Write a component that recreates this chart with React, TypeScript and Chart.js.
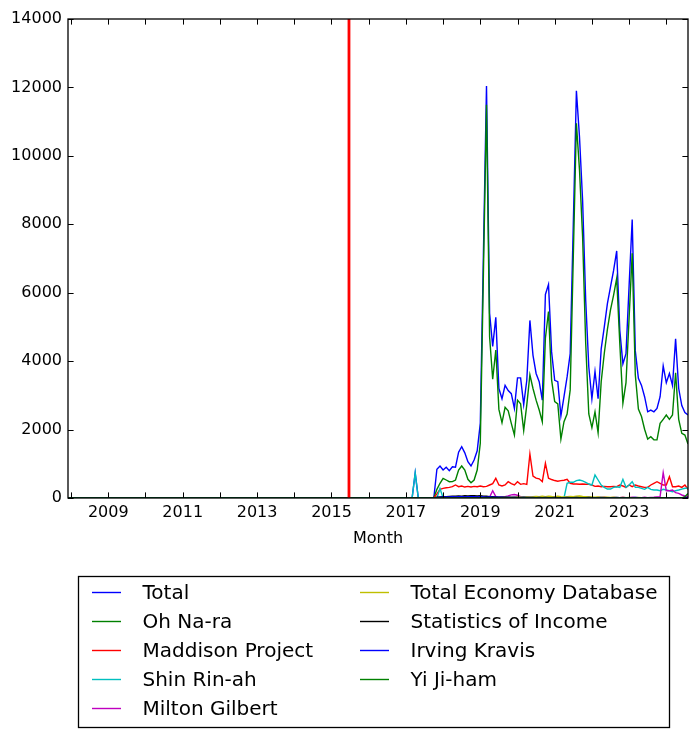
import React, { useEffect, useRef } from "react";
import { Chart, registerables } from "chart.js";

Chart.register(...registerables);

// ---- data ----
const startYear = 2007;
const startMonth = 11; // first month-end sample (Nov 2007)
const monthCount = 201; // through Jul 2024
const zeroMonthsBeforeActive = 110; // every series reads 0 before Jan 2017

const seriesNames = [
  "Total",
  "Oh Na-ra",
  "Maddison Project",
  "Shin Rin-ah",
  "Milton Gilbert",
  "Total Economy Database",
  "Statistics of Income",
  "Irving Kravis",
  "Yi Ji-ham",
];
const seriesColors = ["#0000ff", "#008000", "#ff0000", "#00bfbf", "#bf00bf", "#bfbf00", "#000000", "#0000ff", "#008000"];

// values from Jan 2017 to Jul 2024
const totalValues = [
  0, 0, 730, 0, 0, 0, 0, 0, 0, 840,
  935, 818, 897, 800, 915, 900, 1340, 1500, 1320, 1060,
  935, 1110, 1380, 2180, 7100, 12040, 5400, 4430, 5280, 3200,
  2900, 3290, 3140, 3050, 2620, 3510, 3510, 2730, 3440, 5190,
  4170, 3640, 3400, 2860, 5950, 6240, 4270, 3440, 3400, 2400,
  2960, 3540, 4220, 8000, 11900, 10550, 8700, 5780, 3830, 2900,
  3700, 2900, 4360, 5000, 5680, 6170, 6650, 7220, 4900, 3920,
  4220, 6200, 8140, 4300, 3500, 3290, 2960, 2520, 2570, 2520,
  2620, 2960, 3860, 3370, 3640, 3290, 4650, 3200, 2700, 2500,
  2430,
];
const ohNaraValues = [
  0, 0, 0, 0, 0, 0, 0, 0, 0, 254,
  430, 575, 526, 477, 480, 526, 818, 935, 818, 546,
  448, 526, 818, 1600, 6545, 11490, 4715, 3470, 4326, 2590,
  2200, 2650, 2550, 2180, 1840, 2860, 2750, 1970, 2720, 3600,
  3200, 2860, 2570, 2230, 4670, 5450, 3450, 2815, 2750, 1720,
  2230, 2455, 3160, 7055, 10950, 9590, 7640, 4520, 2455, 2055,
  2520, 1910, 3400, 4230, 4930, 5500, 5930, 6420, 4520, 2770,
  3370, 5260, 7150, 3600, 2600, 2380, 2010, 1720, 1790, 1700,
  1700, 2180, 2300, 2425, 2300, 2425, 3660, 2300, 1890, 1840,
  1580,
];
const maddisonValues = [
  0, 0, 0, 0, 0, 0, 0, 0, 0, 120,
  254, 283, 300, 312, 330, 380, 330, 350, 320, 340,
  320, 340, 330, 350, 330, 340, 380, 420, 575, 380,
  350, 380, 477, 420, 380, 477, 400, 420, 400, 1286,
  643, 580, 560, 480, 1014, 580, 540, 510, 490, 507,
  520, 546, 430, 409, 409, 400, 410, 400, 400, 380,
  340, 350, 330, 340, 330, 330, 340, 330, 380, 350,
  312, 380, 330, 380, 350, 330, 312, 312, 380, 430,
  477, 430, 380, 380, 623, 330, 330, 350, 312, 380,
  254,
];
const shinRinahValues = [
  0, 0, 730, 0, 0, 0, 0, 0, 0, 0,
  280, 0, 0, 0, 0, 0, 0, 0, 0, 0,
  0, 0, 0, 0, 0, 0, 0, 0, 0, 0,
  0, 0, 0, 0, 0, 0, 0, 0, 0, 0,
  0, 0, 0, 0, 0, 0, 0, 0, 0, 0,
  0, 430, 459, 459, 507, 526, 500, 459, 409, 380,
  672, 526, 380, 312, 263, 263, 312, 330, 312, 546,
  312, 380, 477, 312, 312, 283, 254, 312, 254, 234,
  234, 213, 254, 234, 213, 185, 213, 234, 260, 283,
  290,
];
const miltonGilbertValues = [
  0, 0, 0, 0, 0, 0, 0, 0, 0, 0,
  0, 0, 0, 10, 0, 15, 0, 0, 10, 0,
  0, 10, 20, 15, 10, 20, 30, 213, 40, 20,
  30, 40, 60, 90, 100, 80, 40, 30, 20, 20,
  15, 10, 20, 10, 10, 20, 10, 10, 20, 10,
  10, 20, 15, 10, 20, 15, 10, 10, 20, 10,
  10, 15, 10, 20, 10, 10, 15, 10, 10, 20,
  10, 10, 20, 15, 10, 10, 20, 10, 15, 20,
  30, 38, 740, 213, 213, 234, 155, 137, 88, 58,
  38,
];
const tedValues = [
  0, 0, 0, 0, 0, 0, 0, 0, 0, 0,
  5, 10, 5, 10, 10, 5, 10, 10, 15, 10,
  10, 15, 10, 20, 15, 20, 25, 20, 15, 20,
  20, 25, 30, 25, 30, 35, 30, 40, 35, 30,
  40, 45, 35, 50, 40, 55, 45, 40, 50, 35,
  30, 40, 45, 35, 50, 60, 45, 40, 35, 30,
  25, 30, 20, 25, 20, 15, 20, 15, 10, 15,
  10, 15, 10, 10, 15, 10, 10, 5, 10, 10,
  5, 10, 5, 10, 5, 5, 10, 5, 5, 5,
  5,
];
const soiValues = [
  0, 0, 0, 0, 0, 0, 0, 0, 0, 20,
  30, 35, 40, 45, 50, 55, 60, 55, 65, 60,
  70, 65, 60, 70, 55, 50, 40, 35, 30, 25,
  20, 20, 15, 15, 10, 10, 10, 5, 5, 5,
  5, 5, 5, 5, 5, 5, 5, 5, 5, 5,
  5, 5, 5, 5, 5, 5, 5, 5, 5, 5,
  5, 5, 5, 5, 5, 5, 5, 5, 5, 5,
  5, 5, 5, 5, 5, 5, 5, 5, 5, 5,
  5, 5, 5, 5, 5, 5, 5, 5, 5, 5,
  5,
];
const kravisValues = [
  0, 0, 0, 0, 0, 0, 0, 0, 0, 10,
  20, 25, 30, 30, 35, 30, 40, 35, 30, 35,
  40, 35, 30, 35, 30, 25, 30, 25, 20, 20,
  20, 15, 20, 15, 20, 15, 15, 20, 15, 15,
  15, 10, 15, 10, 15, 10, 10, 15, 10, 10,
  10, 15, 10, 10, 15, 10, 10, 10, 15, 10,
  10, 10, 15, 10, 10, 10, 10, 15, 10, 10,
  10, 10, 10, 15, 10, 10, 10, 10, 10, 10,
  10, 10, 10, 10, 10, 10, 10, 10, 10, 10,
  10,
];
const yiJihamValues = [
  0, 0, 0, 0, 0, 0, 0, 0, 0, 0,
  5, 5, 5, 5, 5, 5, 5, 5, 5, 5,
  5, 5, 5, 5, 5, 5, 5, 5, 5, 5,
  5, 5, 5, 5, 5, 5, 5, 5, 5, 5,
  5, 5, 5, 5, 5, 5, 5, 5, 5, 5,
  5, 5, 5, 5, 5, 5, 5, 5, 5, 5,
  5, 5, 5, 5, 5, 5, 5, 5, 5, 5,
  5, 5, 5, 5, 5, 5, 5, 5, 5, 5,
  5, 5, 10, 5, 5, 5, 5, 5, 5, 40,
  130,
];

const seriesValues = [
  totalValues,
  ohNaraValues,
  maddisonValues,
  shinRinahValues,
  miltonGilbertValues,
  tedValues,
  soiValues,
  kravisValues,
  yiJihamValues,
];

const markerYear = 2015.47; // red vertical event line
const yTickValues = [0, 2000, 4000, 6000, 8000, 10000, 12000, 14000];
const xTickYears = [2008, 2009, 2010, 2011, 2012, 2013, 2014, 2015, 2016, 2017, 2018, 2019, 2020, 2021, 2022, 2023, 2024];
const xLabelYears = [2009, 2011, 2013, 2015, 2017, 2019, 2021, 2023];
const xTitle = "Month";

// month-end positions in fractional years
const monthX: number[] = [];
for (let i = 0; i < monthCount; i++) {
  const mi = startMonth - 1 + i;
  const y = startYear + Math.floor(mi / 12);
  const m = (mi % 12) + 1;
  monthX.push(y + m / 12);
}

function fullSeries(vals: number[]) {
  const out: number[] = [];
  for (let i = 0; i < zeroMonthsBeforeActive; i++) out.push(0);
  return out.concat(vals);
}

const FONT = "DejaVu Sans";

const framePlugin = {
  id: "mplFrame",
  afterDatasetsDraw(chart: any) {
    const { ctx, chartArea: a, scales } = chart;
    ctx.save();
    ctx.strokeStyle = "#000";
    ctx.lineWidth = 1;
    const tl = 5.6;
    ctx.beginPath();
    scales.x.ticks.forEach((t: any) => {
      const px = Math.round(scales.x.getPixelForValue(t.value)) + 0.5;
      ctx.moveTo(px, a.bottom);
      ctx.lineTo(px, a.bottom - tl);
      ctx.moveTo(px, a.top);
      ctx.lineTo(px, a.top + tl);
    });
    scales.y.ticks.forEach((t: any) => {
      const py = Math.round(scales.y.getPixelForValue(t.value)) + 0.5;
      ctx.moveTo(a.left, py);
      ctx.lineTo(a.left + tl, py);
      ctx.moveTo(a.right, py);
      ctx.lineTo(a.right - tl, py);
    });
    ctx.stroke();
    ctx.lineWidth = 1.3;
    ctx.strokeRect(a.left, a.top, a.right - a.left, a.bottom - a.top);
    ctx.restore();
  },
};

const legendPlugin = {
  id: "mplLegend",
  afterDraw(chart: any) {
    const { ctx } = chart;
    const items = chart.data.datasets.filter((d: any) => d.inLegend);
    ctx.save();
    ctx.strokeStyle = "#000";
    ctx.lineWidth = 1.3;
    ctx.strokeRect(78.5, 576.5, 591, 151);
    ctx.font = `20px "${FONT}"`;
    ctx.textBaseline = "middle";
    ctx.fillStyle = "#000";
    items.forEach((d: any, i: number) => {
      const col = i < 5 ? 0 : 1;
      const row = i < 5 ? i : i - 5;
      const y = 592.5 + row * 29;
      const lx = col === 0 ? 92 : 360;
      const tx = col === 0 ? 142.5 : 410.5;
      ctx.strokeStyle = d.borderColor;
      ctx.lineWidth = 1.4;
      ctx.beginPath();
      ctx.moveTo(lx, y);
      ctx.lineTo(lx + 29, y);
      ctx.stroke();
      ctx.fillText(d.label, tx, y + 1);
    });
    ctx.restore();
  },
};

export default function App() {
  const ref = useRef<HTMLCanvasElement>(null);
  useEffect(() => {
    if (!ref.current) return;
    const n = seriesNames.length;
    const datasets: any[] = seriesNames.map((name, i) => ({
      label: name,
      data: fullSeries(seriesValues[i]).map((v, k) => ({ x: monthX[k], y: v })),
      borderColor: seriesColors[i],
      backgroundColor: seriesColors[i],
      borderWidth: 1.4,
      pointRadius: 0,
      fill: false,
      tension: 0,
      order: n - i,
      inLegend: true,
      clip: 0,
    }));
    datasets.push({
      label: "event",
      data: [
        { x: markerYear, y: 0 },
        { x: markerYear, y: 14000 },
      ],
      borderColor: "#ff0000",
      borderWidth: 2.8,
      pointRadius: 0,
      fill: false,
      order: 0,
      inLegend: false,
      clip: 0,
    });
    const chart = new Chart(ref.current, {
      type: "line",
      data: { datasets },
      plugins: [framePlugin, legendPlugin],
      options: {
        animation: false,
        responsive: false,
        maintainAspectRatio: false,
        layout: { padding: { top: 19, right: 10, bottom: 189, left: 0 } },
        plugins: { legend: { display: false }, tooltip: { enabled: false } },
        scales: {
          x: {
            type: "linear",
            min: monthX[0],
            max: monthX[monthCount - 1],
            grid: { display: false, drawTicks: false },
            border: { display: false },
            afterBuildTicks: (s: any) => {
              s.ticks = xTickYears.map((v) => ({ value: v }));
            },
            afterFit: (s: any) => {
              s.height = 50;
            },
            ticks: {
              autoSkip: false,
              maxRotation: 0,
              padding: 5,
              color: "#000",
              font: { family: FONT, size: 16 },
              callback: (v: any) => (xLabelYears.includes(Number(v)) ? String(v) : ""),
            },
            title: {
              display: true,
              text: xTitle,
              color: "#000",
              font: { family: FONT, size: 16 },
              padding: 0,
            },
          },
          y: {
            type: "linear",
            min: 0,
            max: 14000,
            grid: { display: false, drawTicks: false },
            border: { display: false },
            afterBuildTicks: (s: any) => {
              s.ticks = yTickValues.map((v) => ({ value: v }));
            },
            afterFit: (s: any) => {
              s.width = 68;
            },
            ticks: {
              padding: 6,
              color: "#000",
              font: { family: FONT, size: 16 },
              callback: (v: any) => String(v),
            },
          },
        },
      } as any,
    });
    return () => chart.destroy();
  }, []);
  return (
    <div style={{ position: "fixed", left: 0, top: 0, width: 698, height: 737, background: "#fff" }}>
      <canvas ref={ref} width={698} height={737} style={{ width: 698, height: 737 }} />
    </div>
  );
}
